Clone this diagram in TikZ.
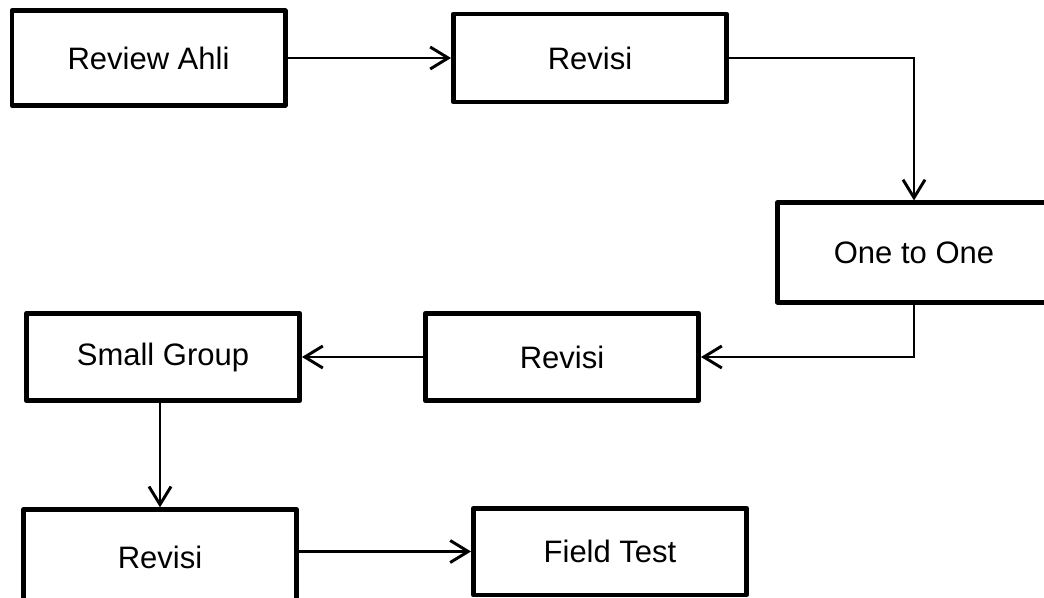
\documentclass[tikz,border=0pt]{standalone}
\usepackage{fontspec}
\setmainfont{Liberation Sans}
\usetikzlibrary{arrows.meta, positioning}
\begin{document}
\begin{tikzpicture}[x=0.75pt, y=-0.75pt,
    box/.style={rectangle, draw, line width=3.5pt, line join=round, minimum width=205pt, minimum height=66pt, font=\fontsize{23.25}{28}\selectfont},
    flow/.style={line width=2.2pt, -{Straight Barb[length=13.5pt, width=16.5pt]}}]
            \useasboundingbox (0,0) rectangle (1044,598);
            \clip (0,0) rectangle (1044,598);

            \node[box, minimum height=71pt] (ahli) at (148.5,58) {Review Ahli};
            \node[box] (revtop) at (590,58) {Revisi};
            \node[box, minimum height=74.5pt] (one) at (914,252.5) {One to One};
            \node[box, minimum height=65.5pt] (revmid) at (562,357) {Revisi};
            \node[box, minimum height=65.5pt] (small) at (163,357) {Small Group};
            \node[box, minimum height=71pt] (revbot) at (160,557) {Revisi};
            \node[box, minimum height=65pt] (field) at (610,551.5) {Field Test};

            \draw[flow] (ahli) -- (revtop);
            \draw[flow] (revtop.east) -| (one.north);
            \draw[flow] (one.south) |- (revmid.east);
            \draw[flow] (revmid) -- (small);
            \draw[flow] (revbot.north |- small.south) -- (revbot.north);
            \draw[flow] (revbot.east |- field.west) -- (field.west);
        \end{tikzpicture}
\end{document}
